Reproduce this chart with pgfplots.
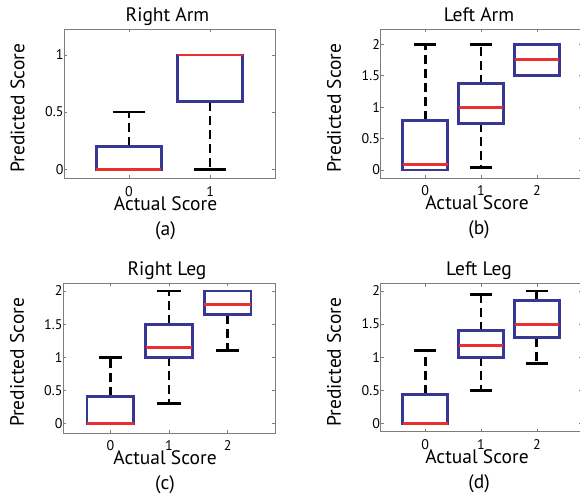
\documentclass[border=0pt]{standalone}
\usepackage{pgfplots}
\pgfplotsset{compat=1.18}
\usepgfplotslibrary{statistics}
\usepackage{fontspec}
\setmainfont{PT Sans}
\definecolor{boxblue}{RGB}{56,56,148}
\definecolor{medred}{RGB}{232,48,48}
\definecolor{framegray}{RGB}{125,125,125}
\newcommand{\labfont}{\fontsize{19.5bp}{23bp}\selectfont}
\newcommand{\tickfont}{\fontsize{14bp}{16bp}\selectfont}
\tikzset{
  whisk/.style={black, line width=2.8bp, dash pattern=on 9bp off 5bp},
  capst/.style={black, line width=2.8bp, solid},
  boxst/.style={boxblue, line width=2.9bp, solid},
  medst/.style={medred, line width=2.9bp, solid},
}
\pgfplotsset{
  mydraw/.style={
    boxplot/draw direction=y,
    boxplot/box extend=0.8,
    boxplot/whisker extend=0.4,
    boxplot/draw/lower whisker/.code={},
    boxplot/draw/upper whisker/.code={},
    boxplot/draw/box/.code={},
    boxplot/draw/median/.code={%
      \draw[whisk] (boxplot cs:\pgfplotsboxplotvalue{lower quartile}) -- (boxplot cs:\pgfplotsboxplotvalue{lower whisker});
      \draw[whisk] (boxplot cs:\pgfplotsboxplotvalue{upper quartile}) -- (boxplot cs:\pgfplotsboxplotvalue{upper whisker});
      \draw[capst] (boxplot whisker cs:\pgfplotsboxplotvalue{lower whisker},0) -- (boxplot whisker cs:\pgfplotsboxplotvalue{lower whisker},1);
      \draw[capst] (boxplot whisker cs:\pgfplotsboxplotvalue{upper whisker},0) -- (boxplot whisker cs:\pgfplotsboxplotvalue{upper whisker},1);
      \draw[boxst] (boxplot box cs:\pgfplotsboxplotvalue{lower quartile},0) rectangle (boxplot box cs:\pgfplotsboxplotvalue{upper quartile},1);
      \draw[medst] (boxplot box cs:\pgfplotsboxplotvalue{median},0) -- (boxplot box cs:\pgfplotsboxplotvalue{median},1);
    },
  },
  mystyle/.style={
    scale only axis,
    anchor=south west,
    axis line style={framegray, line width=0.8bp},
    tick style={framegray, line width=0.6bp},
    major tick length=3bp,
    tick align=inside,
    /pgf/number format/assume math mode=true,
    ticklabel style={font=\tickfont},
    xticklabel style={anchor=base, yshift=-18bp},
    yticklabel style={xshift=3bp},
    label style={font=\labfont},
    title style={font=\labfont, at={(axis description cs:0.5,1)}, anchor=base, yshift=2bp, xshift=-2bp},
    xlabel style={at={(axis description cs:0.5,0)}, anchor=base, yshift=-32bp, xshift=-4bp},
    xlabel={Actual Score},
    ylabel={Predicted Score},
  },
}
\begin{document}
\begin{tikzpicture}
\useasboundingbox (0,0) rectangle (580bp,498bp);
% (a)
\begin{axis}[mystyle, name=a, at={(64bp,319.7bp)}, width=211bp, height=149bp,
  xmin=-0.8, xmax=1.8, ymin=-0.08, ymax=1.225,
  xtick={0,1}, ytick={0,0.5,1},
  title={Right Arm},
  ylabel style={at={(axis description cs:-0.22,0.47)}, anchor=center}]
\addplot[mydraw, boxplot prepared={draw position=0, lower whisker=0, lower quartile=0, median=0, upper quartile=0.2, upper whisker=0.5}] coordinates {};
\addplot[mydraw, boxplot prepared={draw position=1, lower whisker=0, lower quartile=0.59, median=1, upper quartile=1, upper whisker=1}] coordinates {};
\end{axis}
\node[font=\labfont] at ([yshift=-52bp,xshift=-4bp]a.south) {(a)};
% (b)
\begin{axis}[mystyle, name=b, at={(380.5bp,320bp)}, width=201bp, height=149bp,
  xmin=-0.8, xmax=2.8, ymin=-0.127, ymax=2.24,
  xtick={0,1,2}, ytick={0,0.5,1,1.5,2},
  title={Left Arm},
  ylabel style={at={(axis description cs:-0.231,0.47)}, anchor=center}]
\addplot[mydraw, boxplot prepared={draw position=0, lower whisker=0, lower quartile=0, median=0.09, upper quartile=0.79, upper whisker=2}] coordinates {};
\addplot[mydraw, boxplot prepared={draw position=1, lower whisker=0.04, lower quartile=0.74, median=1, upper quartile=1.37, upper whisker=2}] coordinates {};
\addplot[mydraw, boxplot prepared={draw position=2, lower whisker=1.5, lower quartile=1.5, median=1.75, upper quartile=2, upper whisker=2}] coordinates {};
\end{axis}
\node[font=\labfont] at ([yshift=-52bp,xshift=-2bp]b.south) {(b)};
% (c)
\begin{axis}[mystyle, name=c, at={(63bp,65bp)}, width=212bp, height=150bp,
  xmin=-0.81, xmax=2.81, ymin=-0.14, ymax=2.12,
  xtick={0,1,2}, ytick={0,0.5,1,1.5,2},
  title={Right Leg},
  ylabel style={at={(axis description cs:-0.217,0.47)}, anchor=center}]
\addplot[mydraw, boxplot prepared={draw position=0, lower whisker=0, lower quartile=0, median=0, upper quartile=0.41, upper whisker=1}] coordinates {};
\addplot[mydraw, boxplot prepared={draw position=1, lower whisker=0.3, lower quartile=1, median=1.15, upper quartile=1.5, upper whisker=2}] coordinates {};
\addplot[mydraw, boxplot prepared={draw position=2, lower whisker=1.1, lower quartile=1.64, median=1.8, upper quartile=2, upper whisker=2}] coordinates {};
\end{axis}
\node[font=\labfont] at ([yshift=-52bp,xshift=-4bp]c.south) {(c)};
% (d)
\begin{axis}[mystyle, name=d, at={(380.5bp,66.3bp)}, width=201bp, height=148bp,
  xmin=-0.8, xmax=2.8, ymin=-0.127, ymax=2.11,
  xtick={0,1,2}, ytick={0,0.5,1,1.5,2},
  title={Left Leg},
  ylabel style={at={(axis description cs:-0.231,0.47)}, anchor=center}]
\addplot[mydraw, boxplot prepared={draw position=0, lower whisker=0, lower quartile=0, median=0, upper quartile=0.44, upper whisker=1.1}] coordinates {};
\addplot[mydraw, boxplot prepared={draw position=1, lower whisker=0.5, lower quartile=1, median=1.17, upper quartile=1.4, upper whisker=1.95}] coordinates {};
\addplot[mydraw, boxplot prepared={draw position=2, lower whisker=0.9, lower quartile=1.29, median=1.5, upper quartile=1.85, upper whisker=2}] coordinates {};
\end{axis}
\node[font=\labfont] at ([yshift=-52bp,xshift=-2bp]d.south) {(d)};
\end{tikzpicture}
\end{document}
